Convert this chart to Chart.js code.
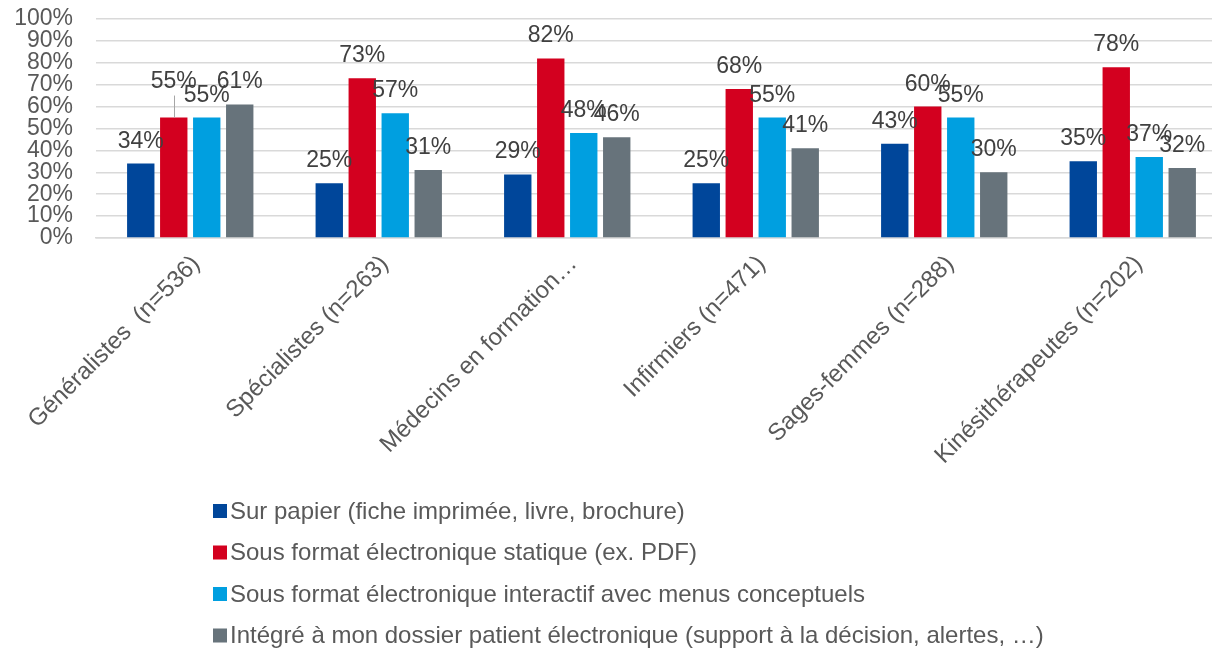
<!DOCTYPE html>
<html>
<head>
<meta charset="utf-8">
<script src="https://cdn.jsdelivr.net/npm/chart.js@4"></script>
<style>
  html, body { margin: 0; padding: 0; background: #fff; overflow: hidden; }
  canvas { display: block; }
</style>
</head>
<body>
<canvas id="chart" width="1230" height="652"></canvas>
<script>
// categories on the x axis
const categories = [
  'Généralistes  (n=536)',
  'Spécialistes (n=263)',
  'Médecins en formation…',
  'Infirmiers (n=471)',
  'Sages-femmes (n=288)',
  'Kinésithérapeutes (n=202)'
];

const seriesNames = [
  'Sur papier (fiche imprimée, livre, brochure)',
  'Sous format électronique statique (ex. PDF)',
  'Sous format électronique interactif avec menus conceptuels',
  'Intégré à mon dossier patient électronique (support à la décision, alertes, …)'
];

// percentages per series
const papier = [34, 25, 29, 25, 43, 35];
const statique = [55, 73, 82, 68, 60, 78];
const interactif = [55, 57, 48, 55, 55, 37];
const dossier = [61, 31, 46, 41, 30, 32];

const yTicks = [0, 10, 20, 30, 40, 50, 60, 70, 80, 90, 100];

const colors = ['#00469a', '#d3001f', '#009fe0', '#67737b'];

// Excel moved this label up and drew a leader line to it
const movedLabels = { '1-0': 14 };

const labelPlugin = {
  id: 'barLabels',
  afterDatasetsDraw(chart) {
    const ctx = chart.ctx;
    ctx.save();
    ctx.font = '23px "Liberation Sans", Arial, sans-serif';
    ctx.fillStyle = '#404040';
    ctx.textAlign = 'center';
    ctx.textBaseline = 'alphabetic';
    chart.data.datasets.forEach((ds, di) => {
      const meta = chart.getDatasetMeta(di);
      meta.data.forEach((bar, i) => {
        const extra = movedLabels[di + '-' + i] || 0;
        const y = bar.y - 16 - extra;
        if (extra) {
          ctx.strokeStyle = '#a6a6a6';
          ctx.lineWidth = 1;
          ctx.beginPath();
          ctx.moveTo(Math.round(bar.x) + 0.5, y + 8);
          ctx.lineTo(Math.round(bar.x) + 0.5, bar.y);
          ctx.stroke();
        }
        ctx.fillText(ds.data[i] + '%', bar.x, y);
      });
    });
    ctx.restore();
  }
};

const legendPlugin = {
  id: 'stackedLegend',
  afterDraw(chart) {
    const ctx = chart.ctx;
    ctx.save();
    ctx.font = '24px "Liberation Sans", Arial, sans-serif';
    ctx.textBaseline = 'middle';
    ctx.textAlign = 'left';
    chart.data.datasets.forEach((ds, i) => {
      const cy = 511 + i * 41.5;
      ctx.fillStyle = ds.backgroundColor;
      ctx.fillRect(213, cy - 7, 14, 14);
      ctx.fillStyle = '#595959';
      ctx.fillText(ds.label, 230, cy + 1);
    });
    ctx.restore();
  }
};

const seriesData = [papier, statique, interactif, dossier];

new Chart(document.getElementById('chart'), {
  type: 'bar',
  data: {
    labels: categories,
    datasets: seriesData.map((d, i) => ({
      label: seriesNames[i],
      data: d,
      backgroundColor: colors[i],
      borderWidth: 0,
      categoryPercentage: 0.70,
      barPercentage: 0.83
    }))
  },
  options: {
    responsive: false,
    animation: false,
    devicePixelRatio: 1,
    layout: { padding: { top: 19, right: 3, left: 0, bottom: 0 } },
    plugins: {
      legend: { display: false },
      tooltip: { enabled: false }
    },
    scales: {
      x: {
        grid: { display: false },
        border: { display: true, color: '#d9d9d9', width: 1.5 },
        ticks: {
          autoSkip: false,
          minRotation: 45,
          maxRotation: 45,
          color: '#595959',
          font: { size: 24, family: '"Liberation Sans", Arial, sans-serif' },
          padding: 4,
          labelOffset: 6
        },
        afterFit(scale) { scale.height = 414; }
      },
      y: {
        min: 0,
        max: 100,
        afterBuildTicks(scale) { scale.ticks = yTicks.map(v => ({ value: v })); },
        grid: { color: '#d9d9d9', lineWidth: 1.5, drawTicks: false },
        border: { display: false },
        ticks: {
          autoSkip: false,
          color: '#595959',
          padding: 23,
          font: { size: 23, family: '"Liberation Sans", Arial, sans-serif' },
          callback: v => v + '%'
        },
        afterFit(scale) {
          scale.width = 96;
          scale.paddingTop = 0;
          scale.paddingBottom = 0;
        }
      }
    }
  },
  plugins: [labelPlugin, legendPlugin]
});
</script>
</body>
</html>
